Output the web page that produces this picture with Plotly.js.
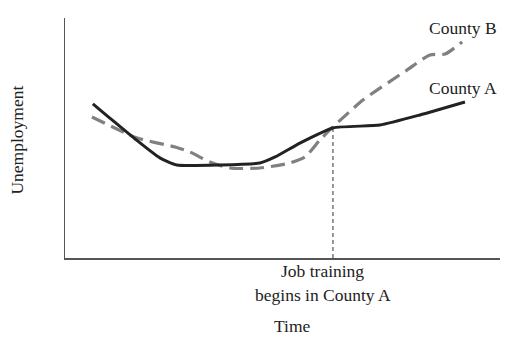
<!DOCTYPE html>
<html>
<head>
<meta charset="utf-8">
<script src="https://cdn.plot.ly/plotly-3.0.1.min.js"></script>
<style>html,body{margin:0;padding:0;background:#fff;}#chart{width:532px;height:354px;}</style>
</head>
<body>
<div id="chart"></div>
<script>
// Time (0-100 arbitrary units) and unemployment (0-100 arbitrary units)
const timeA = [6.4, 10.3, 16.1, 21.8, 25.7, 35.6, 44.8, 48.3, 54.0, 61.6, 72.4, 81.6, 91.95];
const countyA = [64.2, 58.3, 49.6, 41.7, 38.75, 38.75, 39.6, 42.1, 47.9, 54.2, 55.4, 59.6, 65.0];
const timeB = [6.2, 16.6, 25.3, 28.7, 33.3, 37.9, 44.8, 51.7, 55.2, 58.6, 61.6, 68.5, 78.6, 83.9, 87.4, 91.3];
const countyB = [58.75, 50.0, 46.25, 44.2, 40.0, 37.5, 37.5, 39.6, 42.1, 49.2, 54.6, 65.8, 78.3, 84.6, 85.0, 90.0];
const trainingStart = 61.6;
const trainingLineY = [0, 54.2];
const seriesNames = ["County A", "County B"];

const serif = "Liberation Serif, Times New Roman, serif";
const txt = "#222";
const fs = 17.5;

const traces = [
  {x: timeB, y: countyB, mode: "lines", name: seriesNames[1],
   line: {color: "#808080", width: 3.2, dash: "14px,7px", shape: "spline", smoothing: 0.6}},
  {x: timeA, y: countyA, mode: "lines", name: seriesNames[0],
   line: {color: "#222", width: 3, shape: "spline", smoothing: 0.5}},
  {x: [trainingStart, trainingStart], y: trainingLineY, mode: "lines",
   line: {color: "#333", width: 1, dash: "4px,3px"}}
];

function ann(x, y, xref, yref, text, extra) {
  return Object.assign({x: x, y: y, xref: xref, yref: yref, text: text, showarrow: false,
    xanchor: "center", yanchor: "middle", font: {family: serif, size: fs, color: txt}}, extra || {});
}

const layout = {
  width: 532, height: 354,
  margin: {l: 65, r: 32, t: 18, b: 96},
  paper_bgcolor: "#fff", plot_bgcolor: "#fff",
  showlegend: false,
  font: {family: serif, size: fs, color: txt},
  xaxis: {range: [0, 100], showline: true, linecolor: "#555", linewidth: 1.5,
          showgrid: false, zeroline: false, showticklabels: false, ticks: "", fixedrange: true},
  yaxis: {range: [0, 100], showline: true, linecolor: "#555", linewidth: 1.5,
          showgrid: false, zeroline: false, showticklabels: false, ticks: "", fixedrange: true},
  annotations: [
    ann(91.5, 95.8, "x", "y", seriesNames[1]),
    ann(91.5, 70.8, "x", "y", seriesNames[0]),
    ann(59.1, -0.054, "x", "paper", "Job training"),
    ann(59.3, -0.154, "x", "paper", "begins in County A"),
    ann(52.2, -0.283, "x", "paper", "Time"),
    ann(-0.11, 0.49, "paper", "paper", "Unemployment", {textangle: -90})
  ]
};

Plotly.newPlot("chart", traces, layout, {displayModeBar: false, staticPlot: true});
</script>
</body>
</html>
